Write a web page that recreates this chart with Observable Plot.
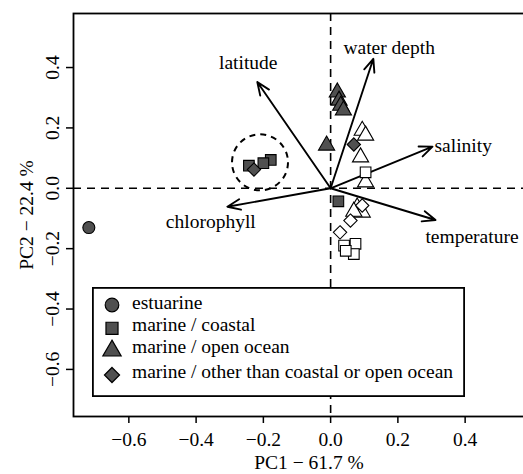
<!DOCTYPE html>
<html>
<head>
<meta charset="utf-8">
<script src="https://cdn.jsdelivr.net/npm/d3@7"></script>
<script src="https://cdn.jsdelivr.net/npm/@observablehq/plot@0.6"></script>
<style>
  html, body { margin: 0; padding: 0; overflow: hidden; background: white; }
  #wrap { position: relative; width: 546px; height: 474px; font-family: 'Liberation Serif', 'DejaVu Serif', serif; }
  #wrap svg, #wrap svg text { font-family: 'Liberation Serif', 'DejaVu Serif', serif !important; }
  #legend { position: absolute; left: 92px; top: 287px; }
</style>
</head>
<body>
<div id="wrap"></div>
<script>
// ---- data ----
const habitats = ["estuarine", "marine / coastal", "marine / open ocean", "marine / other than coastal or open ocean"];
const symbolsFor = ["circle", "square", "triangle", "diamond2"];

const ptHabitat = [
  "estuarine",
  "marine / coastal", "marine / coastal", "marine / coastal", "marine / coastal",
  "marine / other than coastal or open ocean", "marine / other than coastal or open ocean",
  "marine / open ocean", "marine / open ocean", "marine / open ocean", "marine / open ocean", "marine / open ocean",
  "marine / open ocean", "marine / open ocean", "marine / open ocean", "marine / open ocean", "marine / open ocean", "marine / open ocean", "marine / open ocean",
  "marine / coastal", "marine / coastal", "marine / coastal", "marine / coastal", "marine / coastal",
  "marine / other than coastal or open ocean", "marine / other than coastal or open ocean", "marine / other than coastal or open ocean"
];
const ptShade = [
  "filled",
  "filled", "filled", "filled", "filled",
  "filled", "filled",
  "filled", "filled", "filled", "filled", "filled",
  "open", "open", "open", "open", "open", "open", "open",
  "open", "open", "open", "open", "open",
  "open", "open", "open"
];
const ptPC1 = [
  -0.719,
  -0.178, -0.200, -0.243, 0.023,
  -0.228, 0.069,
  0.020, 0.025, 0.030, 0.038, -0.012,
  0.094, 0.104, 0.089, 0.104, 0.079, 0.094, 0.069,
  0.104, 0.040, 0.074, 0.069, 0.045,
  0.094, 0.059, 0.028
];
const ptPC2 = [
  -0.130,
  0.094, 0.083, 0.075, -0.043,
  0.062, 0.145,
  0.318, 0.291, 0.274, 0.258, 0.142,
  0.191, 0.175, 0.103, 0.020, -0.063, -0.080, -0.077,
  0.053, -0.190, -0.184, -0.218, -0.207,
  -0.057, -0.107, -0.146
];

// loadings (arrows) and their label positions
const varNames = ["latitude", "water depth", "salinity", "temperature", "chlorophyll"];
const varPC1 = [-0.218, 0.127, 0.303, 0.312, -0.307];
const varPC2 = [0.352, 0.429, 0.138, -0.105, -0.061];
const labPC1 = [-0.332, 0.038, 0.309, 0.282, -0.490];
const labPC2 = [0.416, 0.465, 0.142, -0.162, -0.112];

// highlighted cluster (dashed circle)
const clusterPC1 = [-0.210];
const clusterPC2 = [0.086];

const xTicks = [-0.6, -0.4, -0.2, 0.0, 0.2, 0.4];
const yTicks = [-0.6, -0.4, -0.2, 0.0, 0.2, 0.4];
const xTitle = "PC1 \u2212 61.7 %";
const yTitle = "PC2 \u2212 22.4 %";

// ---- tables ----
const points = ptPC1.map((x, i) => ({x, y: ptPC2[i], habitat: ptHabitat[i], shade: ptShade[i]}));
const loadings = varNames.map((name, i) => ({name, x0: 0, y0: 0, x: varPC1[i], y: varPC2[i], lx: labPC1[i], ly: labPC2[i]}));
const cluster = clusterPC1.map((x, i) => ({x, y: clusterPC2[i]}));

const fmt = d3.format(".1f");
const FONT = "'Liberation Serif', 'DejaVu Serif', serif";
const FILL_DARK = "#505050";
const R = 6;
const R_LEG = 6.8;

const chart = Plot.plot({
  width: 546,
  height: 474,
  marginLeft: 73,
  marginRight: 2,
  marginTop: 13,
  marginBottom: 58,
  style: {fontFamily: FONT, fontSize: "19.5px", color: "black", background: "white"},
  x: {domain: [-0.7646, 0.636]},
  y: {domain: [-0.756, 0.579]},
  symbol: {domain: habitats, range: symbolsFor},
  color: {domain: ["filled", "open"], range: [FILL_DARK, "white"]},
  marks: [
    Plot.ruleX([0], {stroke: "black", strokeWidth: 1.6, strokeDasharray: "8,6"}),
    Plot.ruleY([0], {stroke: "black", strokeWidth: 1.6, strokeDasharray: "8,6"}),
    Plot.dot(cluster, {x: "x", y: "y", r: 28, fill: "none", stroke: "black", strokeWidth: 2, strokeDasharray: "6,5"}),
    Plot.arrow(loadings, {x1: "x0", y1: "y0", x2: "x", y2: "y", stroke: "black", strokeWidth: 1.9, headLength: 11, headAngle: 45}),
    Plot.dot(points, {x: "x", y: "y", symbol: "habitat", fill: "shade", stroke: "black", strokeWidth: 1.1, r: R}),
    Plot.text(loadings, {x: "lx", y: "ly", text: "name", textAnchor: "start", lineAnchor: "middle", fill: "black"}),
    Plot.frame({stroke: "black", strokeWidth: 1.8}),
    Plot.axisX({ticks: xTicks, tickFormat: fmt, tickSize: 7, tickPadding: 9, strokeWidth: 1.5, label: null}),
    Plot.axisY({ticks: yTicks, tickFormat: () => "", tickSize: 7, strokeWidth: 1.5, label: null}),
    Plot.text(yTicks, {y: d => d, text: d => fmt(d), frameAnchor: "left", rotate: -90, textAnchor: "middle", lineAnchor: "middle", dx: -21, fill: "black"}),
    Plot.text([yTitle], {text: d => d, frameAnchor: "left", rotate: -90, textAnchor: "middle", lineAnchor: "middle", dx: -47, fill: "black"}),
    Plot.text([xTitle], {text: d => d, frameAnchor: "bottom", textAnchor: "middle", lineAnchor: "middle", dy: 46, fill: "black"})
  ]
});

const wrap = document.getElementById("wrap");
wrap.appendChild(chart);

// ---- legend (inset box) ----
const symMap = {circle: d3.symbolCircle, square: d3.symbolSquare, triangle: d3.symbolTriangle, diamond2: d3.symbolDiamond2};
const legW = 373, legH = 110;
const rowSymY = [18, 41.3, 63.7, 88];
const rowTextY = [22.4, 44.1, 65.7, 91.4];
const leg = d3.create("svg").attr("id", "legend").attr("width", legW).attr("height", legH)
  .style("font-family", FONT).style("font-size", "19.5px");
leg.append("rect").attr("x", 0.9).attr("y", 0.9).attr("width", legW - 1.8).attr("height", legH - 1.8)
  .attr("fill", "white").attr("stroke", "black").attr("stroke-width", 1.8);
habitats.forEach((h, i) => {
  leg.append("path")
    .attr("transform", `translate(20,${rowSymY[i]})`)
    .attr("d", d3.symbol(symMap[symbolsFor[i]], Math.PI * R_LEG * R_LEG)())
    .attr("fill", FILL_DARK).attr("stroke", "black").attr("stroke-width", 1.2);
  leg.append("text").attr("x", 40).attr("y", rowTextY[i]).attr("fill", "black").text(h);
});
wrap.appendChild(leg.node());
</script>
</body>
</html>
